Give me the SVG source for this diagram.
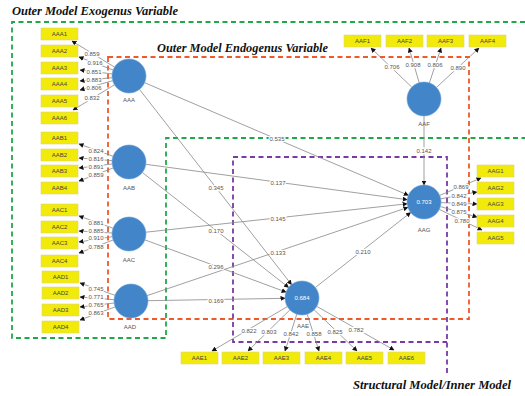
<svg xmlns="http://www.w3.org/2000/svg" width="525" height="396" viewBox="0 0 525 396">
<style>
.t{font-family:"Liberation Serif",serif;font-weight:bold;font-style:italic;font-size:13px;fill:#111}
.box{fill:#f2ea0a;stroke:#dcd37a;stroke-width:0.6}
.bt{font-family:"Liberation Sans",Arial,sans-serif;font-size:6px;fill:#444;text-anchor:middle}
.lv{fill:#4285c8;stroke:#6fa3d8;stroke-width:0.6}
.nl{font-family:"Liberation Sans",Arial,sans-serif;font-size:6px;fill:#555;text-anchor:middle}
.in{font-family:"Liberation Sans",Arial,sans-serif;font-size:6px;fill:#fff;text-anchor:middle}
.ln{stroke:#888;stroke-width:0.8;fill:none;marker-end:url(#ah)}
.lb{font-family:"Liberation Sans",Arial,sans-serif;font-size:6px;fill:#555;text-anchor:middle;paint-order:stroke;stroke:#fff;stroke-width:2.5}
.dg{fill:none;stroke:#1faa4a;stroke-width:1.8;stroke-dasharray:5 3.5}
.do{fill:none;stroke:#f0592a;stroke-width:1.8;stroke-dasharray:5 3.5}
.dp{fill:none;stroke:#7a3aa5;stroke-width:1.8;stroke-dasharray:5 3.5}
</style>
<defs>
<marker id="ah" viewBox="0 0 10 10" refX="9" refY="5" markerWidth="5" markerHeight="5" markerUnits="userSpaceOnUse" orient="auto">
<path d="M0,0 L10,5 L0,10 z" fill="#111"/>
</marker>
</defs>
<g id="regions">
<path class="dg" d="M525,22 H12 V338 H166 V138 H525"/>
<rect class="do" x="108" y="57" width="361" height="262"/>
<path class="dp" d="M447,373 V157 H233 V342 H447"/>
<text class="t" x="12" y="15" textLength="166" lengthAdjust="spacingAndGlyphs">Outer Model Exogenus Variable</text>
<text class="t" x="157" y="52" textLength="171" lengthAdjust="spacingAndGlyphs">Outer Model Endogenus Variable</text>
<text class="t" x="353" y="389" textLength="158" lengthAdjust="spacingAndGlyphs">Structural Model/Inner Model</text>
</g>
<g id="connectors">
<line class="ln" x1="114.5" y1="67.1" x2="72" y2="41"/>
<line class="ln" x1="113.1" y1="70" x2="79" y2="57"/>
<line class="ln" x1="112.1" y1="73.9" x2="80" y2="70"/>
<line class="ln" x1="112.1" y1="77.7" x2="80" y2="81"/>
<line class="ln" x1="112.7" y1="80.7" x2="80" y2="90"/>
<line class="ln" x1="114.5" y1="84.8" x2="73" y2="110"/>
<line class="ln" x1="113" y1="156.2" x2="79" y2="144"/>
<line class="ln" x1="112.1" y1="160.6" x2="79" y2="158"/>
<line class="ln" x1="112.1" y1="164" x2="79" y2="168"/>
<line class="ln" x1="113.1" y1="168" x2="79" y2="181"/>
<line class="ln" x1="113" y1="228.2" x2="79" y2="216"/>
<line class="ln" x1="112" y1="233" x2="79" y2="231"/>
<line class="ln" x1="112.2" y1="236.7" x2="79" y2="242"/>
<line class="ln" x1="113.1" y1="240" x2="79" y2="253"/>
<line class="ln" x1="115" y1="295.3" x2="80" y2="283"/>
<line class="ln" x1="114" y1="299.7" x2="80" y2="297"/>
<line class="ln" x1="114.1" y1="303" x2="80" y2="307"/>
<line class="ln" x1="115.1" y1="306.9" x2="80" y2="320"/>
<line class="ln" x1="411.8" y1="87.2" x2="371" y2="48"/>
<line class="ln" x1="419.2" y1="82.7" x2="409" y2="48"/>
<line class="ln" x1="429.4" y1="82.9" x2="441" y2="48"/>
<line class="ln" x1="436.5" y1="87.4" x2="479" y2="48"/>
<line class="ln" x1="439.7" y1="195.4" x2="481" y2="178"/>
<line class="ln" x1="440.7" y1="198.8" x2="477" y2="192"/>
<line class="ln" x1="441" y1="202.6" x2="477" y2="204"/>
<line class="ln" x1="440.4" y1="206.6" x2="477" y2="217"/>
<line class="ln" x1="439.3" y1="209.4" x2="482" y2="230"/>
<line class="ln" x1="287.3" y1="306.6" x2="212" y2="351"/>
<line class="ln" x1="289.9" y1="309.9" x2="248" y2="351"/>
<line class="ln" x1="296.8" y1="314.2" x2="285" y2="351"/>
<line class="ln" x1="307.2" y1="314.2" x2="319" y2="351"/>
<line class="ln" x1="314.2" y1="309.8" x2="357" y2="351"/>
<line class="ln" x1="316.8" y1="306.4" x2="394" y2="350"/>
<line class="ln" x1="144.6" y1="82.7" x2="408.4" y2="195.3"/>
<line class="ln" x1="139.5" y1="89.4" x2="291.5" y2="284.6"/>
<line class="ln" x1="145.8" y1="164.3" x2="407.2" y2="199.7"/>
<line class="ln" x1="142.4" y1="172.5" x2="288.6" y2="287.5"/>
<line class="ln" x1="145.9" y1="232.2" x2="407.1" y2="203.8"/>
<line class="ln" x1="145" y1="239.9" x2="286.1" y2="292.1"/>
<line class="ln" x1="147.1" y1="295.6" x2="407.9" y2="207.4"/>
<line class="ln" x1="148" y1="300.7" x2="285" y2="298.3"/>
<line class="ln" x1="315.4" y1="287.5" x2="410.6" y2="212.5"/>
<line class="ln" x1="424" y1="116" x2="424" y2="185"/>
<text class="lb" x="92" y="56">0.859</text>
<text class="lb" x="95" y="65">0.916</text>
<text class="lb" x="94" y="74">0.851</text>
<text class="lb" x="94" y="82">0.883</text>
<text class="lb" x="94" y="90">0.806</text>
<text class="lb" x="92" y="100">0.832</text>
<text class="lb" x="96" y="153">0.824</text>
<text class="lb" x="96" y="161">0.816</text>
<text class="lb" x="96" y="169">0.891</text>
<text class="lb" x="96" y="177">0.859</text>
<text class="lb" x="96" y="225">0.881</text>
<text class="lb" x="96" y="233">0.885</text>
<text class="lb" x="96" y="240">0.910</text>
<text class="lb" x="96" y="249">0.788</text>
<text class="lb" x="96" y="291">0.745</text>
<text class="lb" x="96" y="299">0.771</text>
<text class="lb" x="96" y="307">0.765</text>
<text class="lb" x="96" y="315">0.863</text>
<text class="lb" x="392" y="69">0.706</text>
<text class="lb" x="413" y="67">0.908</text>
<text class="lb" x="435" y="67">0.806</text>
<text class="lb" x="458" y="70">0.890</text>
<text class="lb" x="461" y="189">0.869</text>
<text class="lb" x="459" y="198">0.842</text>
<text class="lb" x="459" y="206">0.849</text>
<text class="lb" x="459" y="214">0.875</text>
<text class="lb" x="462" y="223">0.780</text>
<text class="lb" x="249" y="333">0.822</text>
<text class="lb" x="269" y="334">0.803</text>
<text class="lb" x="291" y="336">0.842</text>
<text class="lb" x="314" y="336">0.858</text>
<text class="lb" x="335" y="334">0.825</text>
<text class="lb" x="356" y="332">0.782</text>
<text class="lb" x="277" y="141">0.535</text>
<text class="lb" x="216" y="190">0.345</text>
<text class="lb" x="278" y="185">0.137</text>
<text class="lb" x="216" y="233">0.170</text>
<text class="lb" x="278" y="221">0.145</text>
<text class="lb" x="216" y="269">0.296</text>
<text class="lb" x="278" y="255">0.133</text>
<text class="lb" x="216" y="303">0.169</text>
<text class="lb" x="363" y="254">0.210</text>
<text class="lb" x="424" y="153">0.142</text>
</g>
<g id="AAA"><circle class="lv" cx="129" cy="76" r="17"/><text class="nl" x="129" y="102">AAA</text></g>
<g id="AAB"><circle class="lv" cx="129" cy="162" r="17"/><text class="nl" x="129" y="190">AAB</text></g>
<g id="AAC"><circle class="lv" cx="129" cy="234" r="17"/><text class="nl" x="129" y="262">AAC</text></g>
<g id="AAD"><circle class="lv" cx="131" cy="301" r="17"/><text class="nl" x="130" y="329">AAD</text></g>
<g id="AAF"><circle class="lv" cx="424" cy="99" r="17"/><text class="nl" x="424" y="126">AAF</text></g>
<g id="AAG"><circle class="lv" cx="424" cy="202" r="17"/><text class="in" x="424" y="204">0.703</text><text class="nl" x="424" y="232">AAG</text></g>
<g id="AAE"><circle class="lv" cx="302" cy="298" r="17"/><text class="in" x="302" y="300">0.684</text><text class="nl" x="303" y="328">AAE</text></g>
<g id="AAA1"><rect class="box" x="41" y="28" width="37" height="12"/><text class="bt" x="59.5" y="36">AAA1</text></g>
<g id="AAA2"><rect class="box" x="41" y="45" width="37" height="12"/><text class="bt" x="59.5" y="53">AAA2</text></g>
<g id="AAA3"><rect class="box" x="41" y="62" width="37" height="12"/><text class="bt" x="59.5" y="70">AAA3</text></g>
<g id="AAA4"><rect class="box" x="41" y="78" width="37" height="12"/><text class="bt" x="59.5" y="86">AAA4</text></g>
<g id="AAA5"><rect class="box" x="41" y="95" width="37" height="12"/><text class="bt" x="59.5" y="103">AAA5</text></g>
<g id="AAA6"><rect class="box" x="41" y="112" width="37" height="12"/><text class="bt" x="59.5" y="120">AAA6</text></g>
<g id="AAB1"><rect class="box" x="41" y="132" width="37" height="12"/><text class="bt" x="59.5" y="140">AAB1</text></g>
<g id="AAB2"><rect class="box" x="41" y="149" width="37" height="12"/><text class="bt" x="59.5" y="157">AAB2</text></g>
<g id="AAB3"><rect class="box" x="41" y="165" width="37" height="12"/><text class="bt" x="59.5" y="173">AAB3</text></g>
<g id="AAB4"><rect class="box" x="41" y="182" width="37" height="12"/><text class="bt" x="59.5" y="190">AAB4</text></g>
<g id="AAC1"><rect class="box" x="41" y="204" width="37" height="12"/><text class="bt" x="59.5" y="212">AAC1</text></g>
<g id="AAC2"><rect class="box" x="41" y="221" width="37" height="12"/><text class="bt" x="59.5" y="229">AAC2</text></g>
<g id="AAC3"><rect class="box" x="41" y="237" width="37" height="12"/><text class="bt" x="59.5" y="245">AAC3</text></g>
<g id="AAC4"><rect class="box" x="41" y="255" width="37" height="12"/><text class="bt" x="59.5" y="263">AAC4</text></g>
<g id="AAD1"><rect class="box" x="42" y="271" width="37" height="12"/><text class="bt" x="60.5" y="279">AAD1</text></g>
<g id="AAD2"><rect class="box" x="42" y="287" width="37" height="12"/><text class="bt" x="60.5" y="295">AAD2</text></g>
<g id="AAD3"><rect class="box" x="42" y="304" width="37" height="12"/><text class="bt" x="60.5" y="312">AAD3</text></g>
<g id="AAD4"><rect class="box" x="42" y="321" width="37" height="12"/><text class="bt" x="60.5" y="329">AAD4</text></g>
<g id="AAF1"><rect class="box" x="344" y="35" width="37" height="12"/><text class="bt" x="362.5" y="43">AAF1</text></g>
<g id="AAF2"><rect class="box" x="386" y="35" width="37" height="12"/><text class="bt" x="404.5" y="43">AAF2</text></g>
<g id="AAF3"><rect class="box" x="427" y="35" width="37" height="12"/><text class="bt" x="445.5" y="43">AAF3</text></g>
<g id="AAF4"><rect class="box" x="469" y="35" width="37" height="12"/><text class="bt" x="487.5" y="43">AAF4</text></g>
<g id="AAG1"><rect class="box" x="477" y="165" width="37" height="12"/><text class="bt" x="495.5" y="173">AAG1</text></g>
<g id="AAG2"><rect class="box" x="477" y="182" width="37" height="12"/><text class="bt" x="495.5" y="190">AAG2</text></g>
<g id="AAG3"><rect class="box" x="477" y="198" width="37" height="12"/><text class="bt" x="495.5" y="206">AAG3</text></g>
<g id="AAG4"><rect class="box" x="477" y="215" width="37" height="12"/><text class="bt" x="495.5" y="223">AAG4</text></g>
<g id="AAG5"><rect class="box" x="477" y="232" width="37" height="12"/><text class="bt" x="495.5" y="240">AAG5</text></g>
<g id="AAE1"><rect class="box" x="181" y="352" width="37" height="12"/><text class="bt" x="199.5" y="360">AAE1</text></g>
<g id="AAE2"><rect class="box" x="222" y="352" width="37" height="12"/><text class="bt" x="240.5" y="360">AAE2</text></g>
<g id="AAE3"><rect class="box" x="263" y="352" width="37" height="12"/><text class="bt" x="281.5" y="360">AAE3</text></g>
<g id="AAE4"><rect class="box" x="305" y="352" width="37" height="12"/><text class="bt" x="323.5" y="360">AAE4</text></g>
<g id="AAE5"><rect class="box" x="346" y="352" width="37" height="12"/><text class="bt" x="364.5" y="360">AAE5</text></g>
<g id="AAE6"><rect class="box" x="388" y="352" width="37" height="12"/><text class="bt" x="406.5" y="360">AAE6</text></g>
</svg>
